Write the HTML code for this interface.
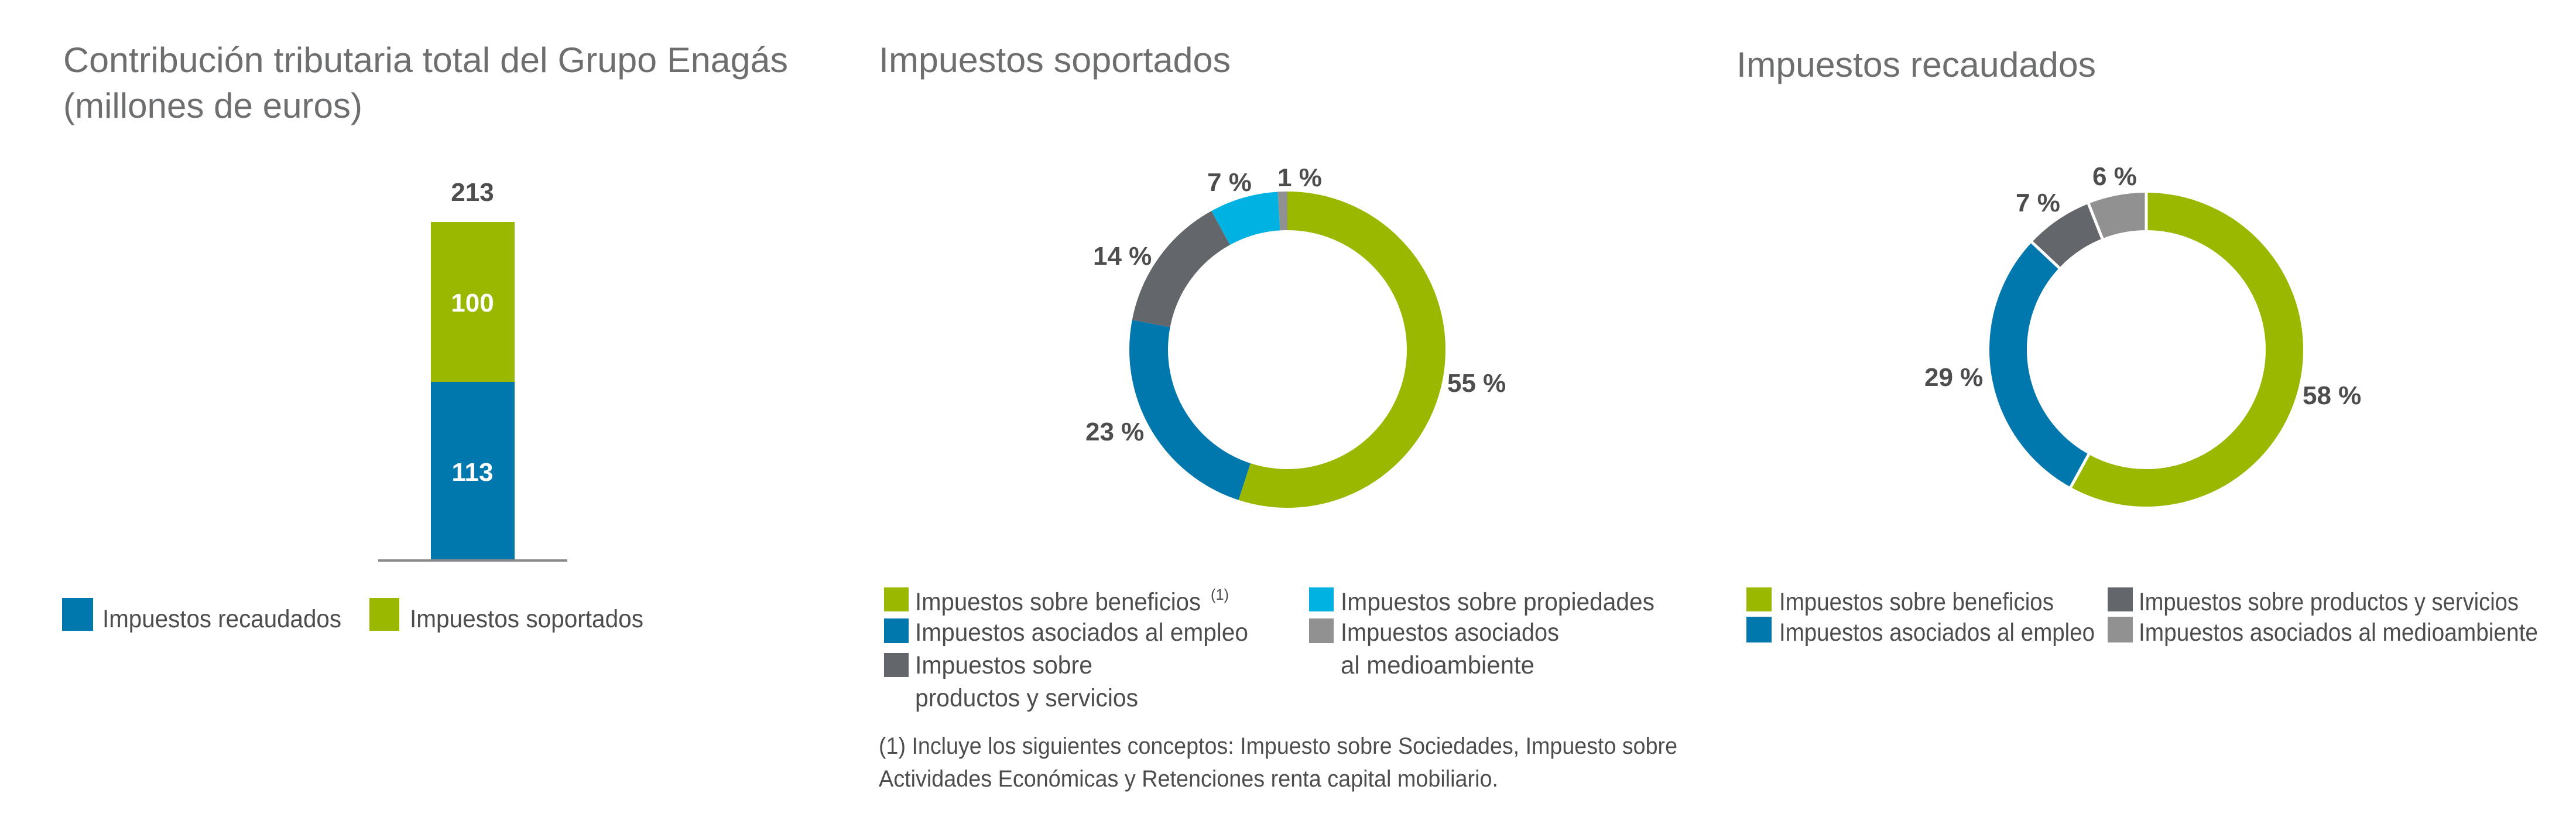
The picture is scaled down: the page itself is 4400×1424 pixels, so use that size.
<!DOCTYPE html>
<html><head><meta charset="utf-8"><style>
html,body{margin:0;padding:0;background:#fff;}
svg{display:block;}
text{font-family:"Liberation Sans",Arial,sans-serif;}
.t{fill:#6d6e70;font-size:60px;}
.l{fill:#4d4d4f;font-size:43px;}
.b{fill:#4d4d4f;font-size:44px;font-weight:bold;}
</style></head><body>
<svg width="4400" height="1424" viewBox="0 0 4400 1424" xmlns="http://www.w3.org/2000/svg">
<rect width="4400" height="1424" fill="#fff"/>
<text class="t" x="108" y="123" textLength="1238" lengthAdjust="spacingAndGlyphs">Contribución tributaria total del Grupo Enagás</text>
<text class="t" x="108" y="201" textLength="511" lengthAdjust="spacingAndGlyphs">(millones de euros)</text>
<text class="t" x="1501" y="123" textLength="601" lengthAdjust="spacingAndGlyphs">Impuestos soportados</text>
<text class="t" x="2966" y="131" textLength="614" lengthAdjust="spacingAndGlyphs">Impuestos recaudados</text>

<rect x="736" y="379" width="143" height="273" fill="#9bb800"/>
<rect x="736" y="652" width="143" height="305" fill="#0077ad"/>
<rect x="646" y="955" width="323" height="4" fill="#8a8b8d"/>
<text class="b" x="807" y="343" text-anchor="middle">213</text>
<text class="b" x="807" y="532" text-anchor="middle" style="fill:#fff">100</text>
<text class="b" x="807" y="821" text-anchor="middle" style="fill:#fff">113</text>
<rect x="106" y="1021" width="53" height="56" fill="#0077ad"/>
<text class="l" x="175" y="1071" textLength="408" lengthAdjust="spacingAndGlyphs">Impuestos recaudados</text>
<rect x="631" y="1021" width="51" height="56" fill="#9bb800"/>
<text class="l" x="700" y="1071" textLength="399" lengthAdjust="spacingAndGlyphs">Impuestos soportados</text>

<g transform="translate(2199,597) rotate(-90)" fill="none" stroke-width="66">
<circle r="237" stroke="#9bb800" stroke-dasharray="819.0 2000" stroke-dashoffset="0"/>
<circle r="237" stroke="#0077ad" stroke-dasharray="342.5 2000" stroke-dashoffset="-819.0"/>
<circle r="237" stroke="#63666a" stroke-dasharray="208.5 2000" stroke-dashoffset="-1161.5"/>
<circle r="237" stroke="#00b2e2" stroke-dasharray="104.2 2000" stroke-dashoffset="-1370.0"/>
<circle r="237" stroke="#919191" stroke-dasharray="14.9 2000" stroke-dashoffset="-1474.2"/>
</g>
<text class="b" x="2472" y="669">55 %</text>
<text class="b" x="1854" y="752">23 %</text>
<text class="b" x="1867" y="452">14 %</text>
<text class="b" x="2062" y="326">7 %</text>
<text class="b" x="2182" y="318">1 %</text>

<g transform="translate(3666,597) rotate(-90)" fill="none" stroke-width="64">
<circle r="236" stroke="#9bb800" stroke-dasharray="860.0 2000" stroke-dashoffset="0"/>
<circle r="236" stroke="#0077ad" stroke-dasharray="430.0 2000" stroke-dashoffset="-860.0"/>
<circle r="236" stroke="#63666a" stroke-dasharray="103.8 2000" stroke-dashoffset="-1290.0"/>
<circle r="236" stroke="#919191" stroke-dasharray="89.0 2000" stroke-dashoffset="-1393.8"/>
</g>
<g transform="translate(3666,597)" stroke="#fff" stroke-width="5">
<line x1="0" y1="-200" x2="0" y2="-272"/>
<line x1="0" y1="-200" x2="0" y2="-272" transform="rotate(208.8)"/>
<line x1="0" y1="-200" x2="0" y2="-272" transform="rotate(313.2)"/>
<line x1="0" y1="-200" x2="0" y2="-272" transform="rotate(338.4)"/>
</g>
<text class="b" x="3933" y="690">58 %</text>
<text class="b" x="3287" y="659">29 %</text>
<text class="b" x="3443" y="361">7 %</text>
<text class="b" x="3574" y="316">6 %</text>

<rect x="1510" y="1003" width="42" height="41" fill="#9bb800"/>
<text class="l" x="1563" y="1042" textLength="488" lengthAdjust="spacingAndGlyphs">Impuestos sobre beneficios</text>
<text class="l" x="2068" y="1024" style="font-size:26px" textLength="31" lengthAdjust="spacingAndGlyphs">(1)</text>
<rect x="1510" y="1056" width="42" height="42" fill="#0077ad"/>
<text class="l" x="1563" y="1094" textLength="569" lengthAdjust="spacingAndGlyphs">Impuestos asociados al empleo</text>
<rect x="1510" y="1115" width="42" height="41" fill="#63666a"/>
<text class="l" x="1563" y="1150" textLength="303" lengthAdjust="spacingAndGlyphs">Impuestos sobre</text>
<text class="l" x="1563" y="1206" textLength="381" lengthAdjust="spacingAndGlyphs">productos y servicios</text>
<rect x="2236" y="1003" width="42" height="41" fill="#00b2e2"/>
<text class="l" x="2290" y="1042" textLength="536" lengthAdjust="spacingAndGlyphs">Impuestos sobre propiedades</text>
<rect x="2236" y="1056" width="42" height="42" fill="#919191"/>
<text class="l" x="2290" y="1094" textLength="373" lengthAdjust="spacingAndGlyphs">Impuestos asociados</text>
<text class="l" x="2290" y="1150" textLength="331" lengthAdjust="spacingAndGlyphs">al medioambiente</text>
<text class="l" x="1501" y="1287" style="font-size:40px" textLength="1364" lengthAdjust="spacingAndGlyphs">(1) Incluye los siguientes conceptos: Impuesto sobre Sociedades, Impuesto sobre</text>
<text class="l" x="1501" y="1343" style="font-size:40px" textLength="1058" lengthAdjust="spacingAndGlyphs">Actividades Económicas y Retenciones renta capital mobiliario.</text>

<rect x="2983" y="1003" width="43" height="41" fill="#9bb800"/>
<text class="l" x="3039" y="1042" textLength="469" lengthAdjust="spacingAndGlyphs">Impuestos sobre beneficios</text>
<rect x="2983" y="1053" width="43" height="44" fill="#0077ad"/>
<text class="l" x="3039" y="1094" textLength="539" lengthAdjust="spacingAndGlyphs">Impuestos asociados al empleo</text>
<rect x="3600" y="1003" width="43" height="41" fill="#63666a"/>
<text class="l" x="3653" y="1042" textLength="649" lengthAdjust="spacingAndGlyphs">Impuestos sobre productos y servicios</text>
<rect x="3600" y="1053" width="43" height="44" fill="#919191"/>
<text class="l" x="3653" y="1094" textLength="682" lengthAdjust="spacingAndGlyphs">Impuestos asociados al medioambiente</text>
</svg>
</body></html>
